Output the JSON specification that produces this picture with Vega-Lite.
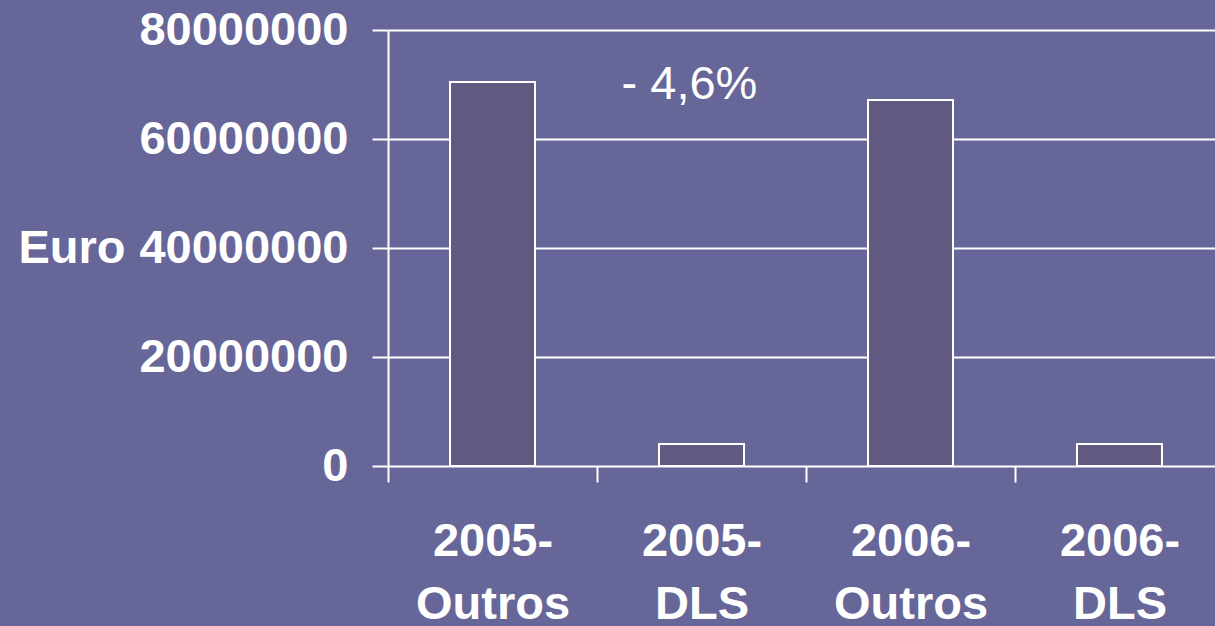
{
  "$schema": "https://vega.github.io/schema/vega-lite/v6.json",
  "autosize": "none",
  "width": 827,
  "height": 436,
  "padding": {"left": 388, "top": 30, "right": 0, "bottom": 160},
  "background": "#666699",
  "config": {
    "view": {"stroke": null},
    "font": "Liberation Sans"
  },
  "datasets": {
    "bars": [
      {"categoria": "2005-Outros", "valor": 70450000},
      {"categoria": "2005-DLS", "valor": 4050000},
      {"categoria": "2006-Outros", "valor": 67150000},
      {"categoria": "2006-DLS", "valor": 4050000}
    ],
    "nota": [
      {"categoria": "2005-DLS", "valor": 69900000, "texto": "- 4,6%"}
    ]
  },
  "encoding": {
    "x": {
      "field": "categoria", "type": "nominal",
      "sort": ["2005-Outros", "2005-DLS", "2006-Outros", "2006-DLS"],
      "scale": {"domain": ["2005-Outros", "2005-DLS", "2006-Outros", "2006-DLS"], "range": [0, 836], "paddingInner": 0, "paddingOuter": 0},
      "axis": {
        "title": null,
        "domain": false,
        "tickBand": "extent",
        "ticks": true,
        "tickSize": 16,
        "tickColor": "white",
        "tickWidth": 2,
        "labelAngle": 0,
        "labelColor": "white",
        "labelFont": "Liberation Sans",
        "labelFontSize": 47,
        "labelFontWeight": "bold",
        "labelPadding": 73,
        "labelLimit": 0,
        "labelLineHeight": 63,
        "labelBaseline": "alphabetic",
        "labelExpr": "indexof(datum.label, '-') > 0 ? [split(datum.label, '-')[0] + '-', split(datum.label, '-')[1]] : ''"
      }
    },
    "y": {
      "field": "valor", "type": "quantitative",
      "scale": {"domain": [0, 80000000], "nice": false},
      "axis": {
        "title": "Euro",
        "titleAngle": 0,
        "titleAlign": "left",
        "titleBaseline": "middle",
        "titleX": -370,
        "titleY": 218,
        "titleColor": "white",
        "titleFont": "Liberation Sans",
        "titleFontSize": 47,
        "titleFontWeight": "bold",
        "values": [0, 20000000, 40000000, 60000000, 80000000],
        "format": "d",
        "domain": true,
        "domainColor": "white",
        "domainWidth": 2,
        "grid": true,
        "gridColor": "white",
        "gridWidth": 2,
        "gridOpacity": 1,
        "tickSize": 16,
        "tickColor": "white",
        "tickWidth": 2,
        "labelColor": "white",
        "labelFont": "Liberation Sans",
        "labelFontSize": 47,
        "labelFontWeight": "bold",
        "labelPadding": 24,
        "labelLimit": 0,
        "labelBaseline": "middle"
      }
    }
  },
  "layer": [
    {
      "data": {"name": "bars"},
      "mark": {"type": "bar", "fill": "#615a80", "stroke": "white", "strokeWidth": 2, "width": 85}
    },
    {
      "data": {"name": "nota"},
      "mark": {"type": "text", "color": "white", "font": "Liberation Sans", "fontSize": 47, "baseline": "middle", "align": "center", "dx": -12},
      "encoding": {
        "text": {"field": "texto"}
      }
    }
  ]
}
